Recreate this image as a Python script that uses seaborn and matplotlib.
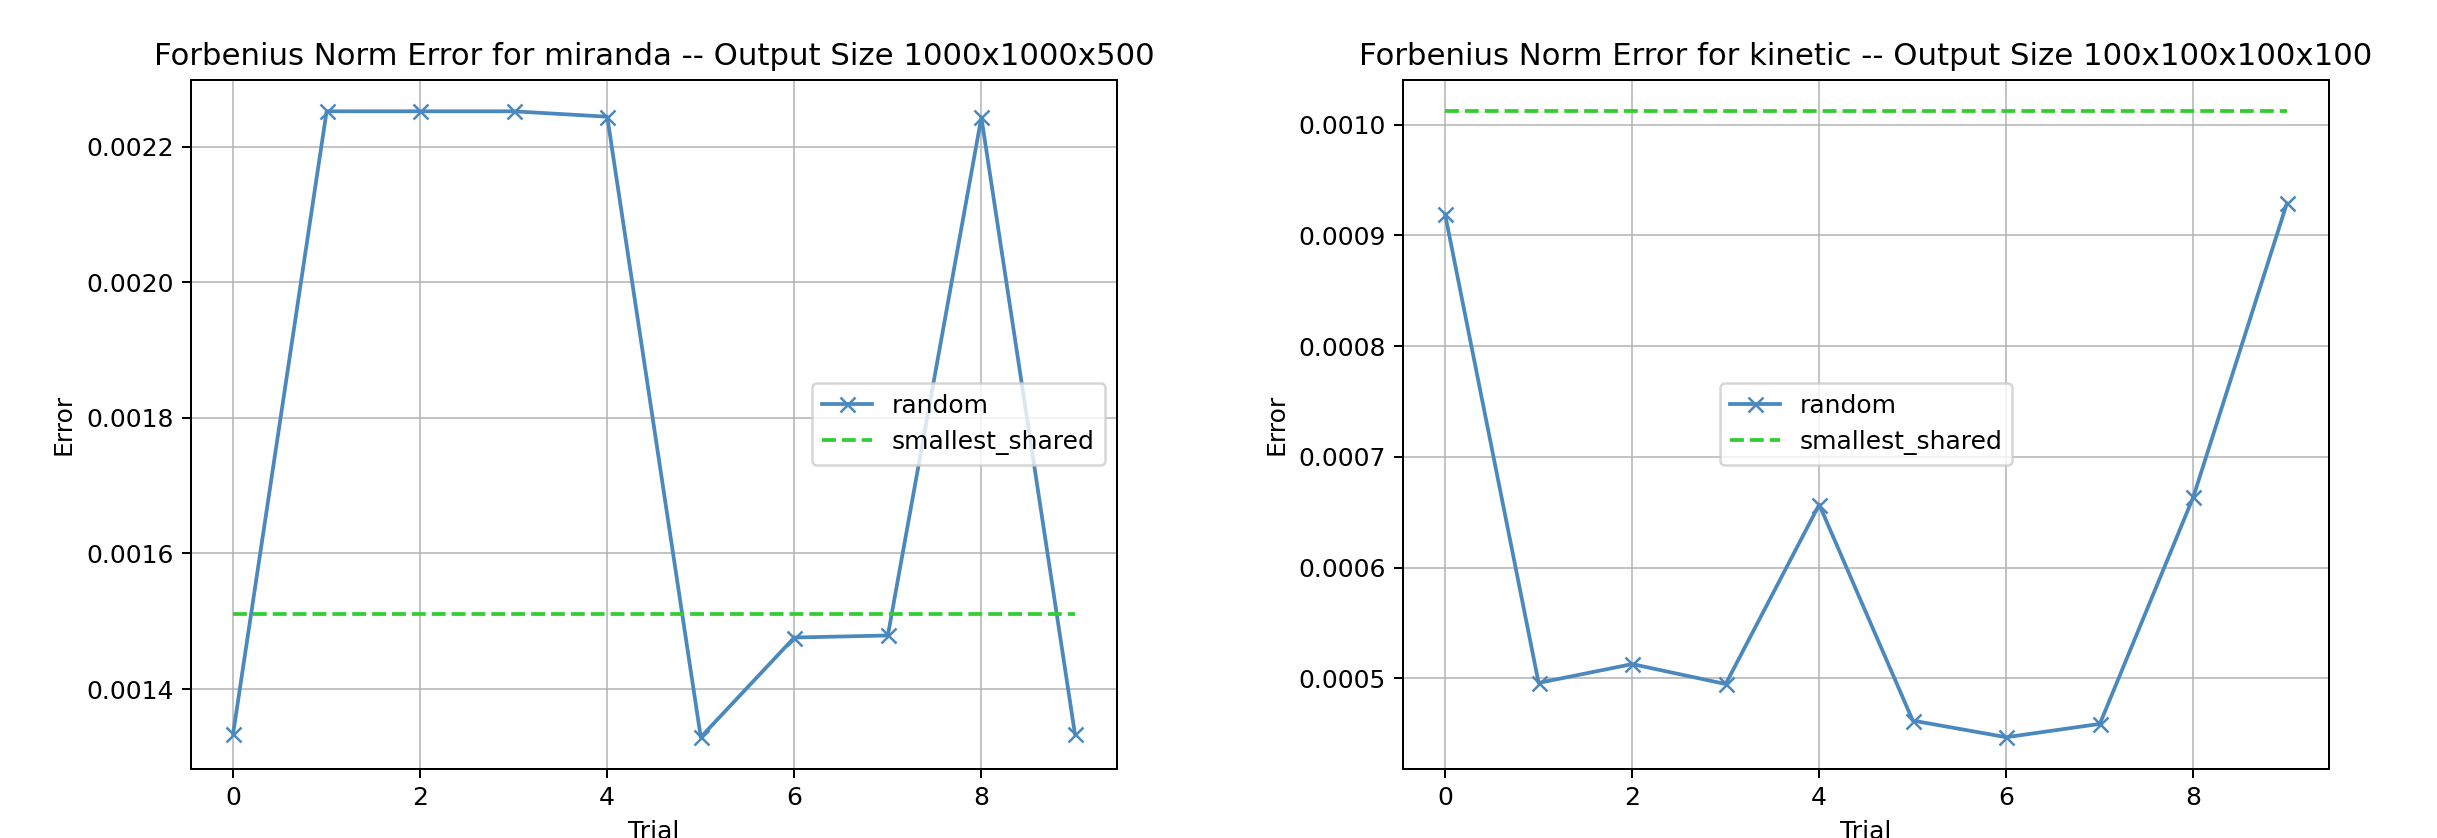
import matplotlib
matplotlib.use("Agg")
import matplotlib.pyplot as plt
import seaborn as sns
import pandas as pd

# ------------------------------------------------------------
#                  DATA
# ------------------------------------------------------------
trials = list(range(10))

miranda_random = [0.001334, 0.002252, 0.002252, 0.002252, 0.002244,
                  0.001329, 0.001476, 0.001479, 0.002243, 0.001334]
miranda_shared = 0.001511

kinetic_random = [0.000919, 0.000496, 0.000513, 0.000495, 0.000657,
                  0.000462, 0.000447, 0.000459, 0.000664, 0.000929]
kinetic_shared = 0.001012

panels = [
    ("miranda", "1000x1000x500", miranda_random, miranda_shared, "center right"),
    ("kinetic", "100x100x100x100", kinetic_random, kinetic_shared, "center"),
]

blue = "#4a88bd"
green = "limegreen"

fig = plt.figure(figsize=(2437 / 180, 838 / 180), dpi=180)
lefts = [191 / 2437, 1403 / 2437]

for left, (name, size, rand, shared, loc) in zip(lefts, panels):
    ax = fig.add_axes([left, 1 - 768.5 / 838, 926 / 2437, 688.5 / 838])
    df = pd.DataFrame({"Trial": trials, "random": rand,
                       "smallest_shared": [shared] * len(trials)})
    sns.lineplot(data=df, x="Trial", y="random", ax=ax, color=blue,
                 marker="x", markersize=6, markeredgecolor=blue,
                 markeredgewidth=1.0, linewidth=1.5, label="random")
    sns.lineplot(data=df, x="Trial", y="smallest_shared", ax=ax, color=green,
                 linestyle="--", linewidth=1.5, label="smallest_shared")
    ax.set_title(f"Forbenius Norm Error for {name} -- Output Size {size}",
                 fontsize=12.3)
    ax.set_xlabel("Trial")
    ax.set_ylabel("Error")
    ax.grid(True, alpha=0.75)
    ax.legend(loc=loc)

fig.savefig("out.png", dpi=180)
